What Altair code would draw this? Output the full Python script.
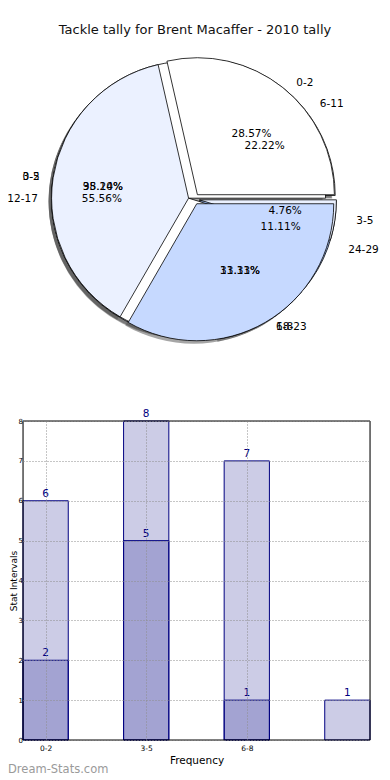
import altair as alt
import pandas as pd

# ---------------- data ----------------
title_text = "Tackle tally for Brent Macaffer - 2010 tally"

pieA_labels = ["0-2", "3-5", "6-8"]
pieA_values = [6, 8, 7]
pieB_labels = ["6-11", "12-17", "18-23", "24-29"]
pieB_values = [2, 5, 1, 1]
pieC_labels = ["0-2", "3-5"]
pieC_values = [20, 1]
pie_colors = ["#ffffff", "#ebf1ff", "#c6d9ff", "#a6c4ff"]

bar_categories = ["0-2", "3-5", "6-8"]
bar_series1 = [6, 8, 7]
bar_series2 = [2, 5, 1, 1]
y_ticks = [0, 1, 2, 3, 4, 5, 6, 7, 8]

watermark = "Dream-Stats.com"

# ---------------- layout constants ----------------
PLOT_W, PLOT_H = 347, 319
PAD = {"left": 15, "top": 413, "right": 12, "bottom": 36}
OX = PAD["left"]
CX, CY = 186 - OX, -222   # pie centre, relative to bar plot origin (px)
R = 137                   # pie radius (px)
RX, RY = 144, 130         # text placement radii
EXPF = 0.04               # explode fraction
EX = EXPF * R
SH = 3                    # shadow offset
LEFT_SHIFT = 8            # keep left-hand pie labels inside the page

FONT = "DejaVu Sans"

# ---------------- pie table ----------------
rows = []
for layer, (pid, labels, values) in enumerate(
    [("B", pieB_labels, pieB_values), ("C", pieC_labels, pieC_values), ("A", pieA_labels, pieA_values)]
):
    for i, (lab, val) in enumerate(zip(labels, values)):
        rows.append(dict(pie=pid, layer=layer, idx=i, label=lab, value=val, color=pie_colors[i]))
pie_df = pd.DataFrame(rows)

pie_base = (
    alt.Chart(pie_df)
    .transform_joinaggregate(total="sum(value)", groupby=["pie"])
    .transform_window(cum="sum(value)", groupby=["pie"],
                      sort=[alt.SortField("idx", order="ascending")], frame=[None, 0])
    .transform_calculate(
        a1="2*PI*(datum.cum - datum.value)/datum.total",
        a2="2*PI*datum.cum/datum.total",
    )
    .transform_calculate(
        mid="(datum.a1 + datum.a2)/2",
        t1="2.5*PI - datum.a2",
        t2="2.5*PI - datum.a1",
    )
    .transform_calculate(
        ax=f"{CX} + {EX}*cos(datum.mid)",
        ay=f"{CY} - {EX}*sin(datum.mid)",
        lx=f"{CX} + {1.1 + EXPF}*{RX}*cos(datum.mid) + (cos(datum.mid) >= 0 ? 0 : {LEFT_SHIFT})",
        ly=f"{CY} - {1.1 + EXPF}*{RY}*sin(datum.mid)",
        px=f"{CX} + {0.6 + EXPF}*{RX}*cos(datum.mid)",
        py=f"{CY} - {0.6 + EXPF}*{RY}*sin(datum.mid)",
        pct="format(100*datum.value/datum.total, '.2f') + '%'",
        side="cos(datum.mid) >= 0 ? 1 : 0",
    )
)

shadow = pie_base.transform_calculate(
    sx=f"datum.ax - {SH}", sy=f"datum.ay + {SH}"
).mark_arc(outerRadius=R, color="#4d4d4d", opacity=0.5).encode(
    x=alt.X("sx:Q", scale=None, axis=None),
    y=alt.Y("sy:Q", scale=None, axis=None),
    theta=alt.Theta("t1:Q", scale=None, stack=None),
    theta2="t2:Q",
)

def wedges(pid):
    return pie_base.transform_filter(f"datum.pie == '{pid}'").mark_arc(
        outerRadius=R, stroke="black", strokeWidth=0.8
    ).encode(
        x=alt.X("ax:Q", scale=None, axis=None),
        y=alt.Y("ay:Q", scale=None, axis=None),
        theta=alt.Theta("t1:Q", scale=None, stack=None),
        theta2="t2:Q",
        fill=alt.Fill("color:N", scale=None),
    )

labels_right = pie_base.transform_filter("datum.side == 1").mark_text(
    align="left", baseline="middle", fontSize=10.5, font=FONT, color="black"
).encode(x=alt.X("lx:Q", scale=None, axis=None), y=alt.Y("ly:Q", scale=None, axis=None), text="label:N")

labels_left = pie_base.transform_filter("datum.side == 0").mark_text(
    align="right", baseline="middle", fontSize=10.5, font=FONT, color="black"
).encode(x=alt.X("lx:Q", scale=None, axis=None), y=alt.Y("ly:Q", scale=None, axis=None), text="label:N")

pcts = pie_base.mark_text(
    align="center", baseline="middle", fontSize=10.5, font=FONT, color="black"
).encode(x=alt.X("px:Q", scale=None, axis=None), y=alt.Y("py:Q", scale=None, axis=None), text="pct:N")

title = alt.Chart(pd.DataFrame({"t": [title_text]})).mark_text(
    fontSize=13, font=FONT, color="#111111", align="center", baseline="middle"
).encode(x=alt.value(187 - OX), y=alt.value(-391), text="t:N")

# ---------------- bars ----------------
bar_rows = []
for i, v in enumerate(bar_series1):
    bar_rows.append(dict(series=1, pos=i, v=v))
for i, v in enumerate(bar_series2):
    bar_rows.append(dict(series=2, pos=i, v=v))
bar_df = pd.DataFrame(bar_rows)

label_expr = "[" + ",".join(f"'{c}'" for c in bar_categories) + "][datum.value]"

x_scale = alt.Scale(domain=[-0.225, 3.225], nice=False, zero=False)
y_scale = alt.Scale(domain=[0, 8], nice=False)

x_axis = alt.Axis(
    values=list(range(len(bar_categories))), labelExpr=label_expr, grid=True,
    gridDash=[1, 2], gridColor="#8c8c8c", gridWidth=1, ticks=False, domain=False,
    labelFontSize=7.5, labelColor="black", labelPadding=4, labelFont=FONT,
    titleFontSize=10.5, titleFontWeight="normal", titleFont=FONT, titleColor="black",
    titlePadding=4, zindex=1,
)
y_axis = alt.Axis(
    values=y_ticks, grid=True, gridDash=[1, 2], gridColor="#8c8c8c", gridWidth=1,
    ticks=False, domain=False, labelFontSize=7, labelColor="black", labelPadding=0.5,
    labelOverlap=False, labelFlush=False, labelFont=FONT,
    titleFontSize=9, titleFontWeight="normal", titleFont=FONT, titleColor="black",
    titleAngle=-90, titleX=-6.5, titleY=PLOT_H / 2, titleAlign="center",
    titleBaseline="alphabetic", zindex=1,
)

bar_base = alt.Chart(bar_df).transform_calculate(
    x1="datum.pos - 0.225", x2="datum.pos + 0.225"
)
bars = bar_base.mark_bar(fill="navy", fillOpacity=0.2, stroke="navy", strokeWidth=1).encode(
    x=alt.X("x1:Q", scale=x_scale, axis=x_axis, title="Frequency"),
    x2="x2:Q",
    y=alt.Y("v:Q", scale=y_scale, axis=y_axis, title="Stat Intervals"),
    y2=alt.datum(0),
    order=alt.Order("series:Q"),
)
bar_text = bar_base.mark_text(
    dy=-7, color="navy", fontSize=10.5, font=FONT, baseline="middle"
).encode(
    x=alt.X("pos:Q", scale=x_scale, axis=x_axis, title="Frequency"),
    y=alt.Y("v:Q", scale=y_scale, axis=y_axis, title="Stat Intervals"),
    text="v:Q",
)

frame = alt.Chart(pd.DataFrame({"f": [0]})).mark_rect(
    fillOpacity=0, stroke="black", strokeWidth=1
).encode(x=alt.value(0), x2=alt.value(PLOT_W), y=alt.value(0), y2=alt.value(PLOT_H))

wm = alt.Chart(pd.DataFrame({"t": [watermark]})).mark_text(
    align="left", baseline="middle", fontSize=11.5, font=FONT, color="#9a9a9a"
).encode(x=alt.value(-OX), y=alt.value(349), text="t:N")

chart = alt.layer(
    bars, bar_text, frame,
    shadow, wedges("B"), wedges("C"), wedges("A"),
    labels_right, labels_left, pcts, title, wm,
).properties(
    width=PLOT_W, height=PLOT_H, padding=PAD,
    autosize=alt.AutoSizeParams(type="none"),
).configure_view(
    stroke=None
).configure(background="white")

chart.save("out.html", embed_options={"renderer": "svg", "actions": False})
